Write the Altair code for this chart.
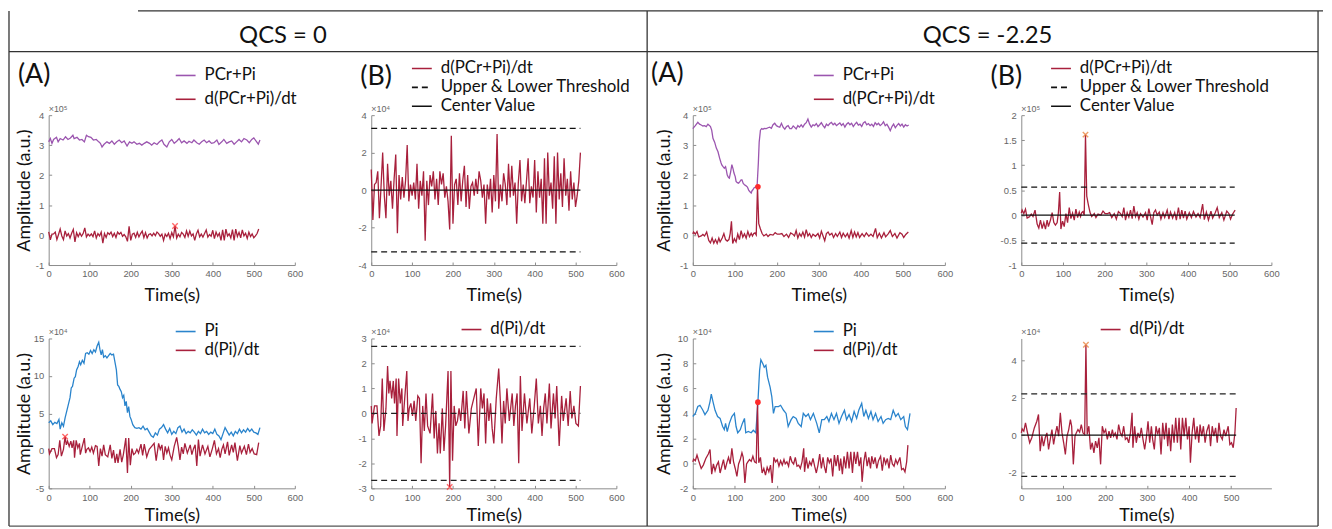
import altair as alt
import pandas as pd

# ---------------- data (amplitudes in units of 1e4 a.u.) ----------------
# QCS = 0 : PCr+Pi
t_pcr0 = [0, 4, 8, 12, 19, 23, 28, 35, 41, 47, 53, 59, 62, 69, 75, 81, 87, 92, 97, 103,
          109, 116, 122, 126, 130, 135, 142, 148, 154, 160, 166, 172, 178, 184, 191, 197, 203, 208, 215, 221,
          227, 233, 239, 246, 251, 257, 264, 270, 276, 281, 288, 294, 300, 306, 312, 318, 324, 330, 337, 342,
          349, 354, 361, 367, 373, 379, 385, 391, 397, 403, 410, 415, 422, 427, 434, 440, 446, 452, 458, 464,
          470, 476, 483, 489, 495, 500, 507, 511, 515]
v_pcr0 = [31.1, 32.2, 30.6, 31.9, 32.6, 31.1, 32.2, 31.7, 32.8, 31.9, 32.4, 33.3, 32.2, 32.6, 31.7, 31.9, 31.1, 33.3, 32.8, 32.6,
          31.7, 31.9, 31.1, 30.6, 29.4, 30.3, 31.1, 30.6, 31.4, 30.3, 31.1, 31.7, 30.8, 31.4, 29.7, 31.1, 30.6, 31.1, 30.3, 30.6,
          30.0, 30.6, 31.1, 30.6, 30.0, 30.8, 30.2, 31.1, 31.7, 30.3, 29.4, 31.1, 31.9, 30.6, 31.3, 32.2, 30.8, 31.4, 30.6, 31.3,
          30.8, 31.7, 30.8, 30.3, 31.1, 31.7, 30.8, 31.4, 30.6, 30.8, 31.7, 30.2, 31.1, 31.9, 30.6, 31.1, 31.4, 30.3, 31.1, 31.9,
          31.1, 32.2, 31.7, 30.8, 31.9, 32.4, 31.1, 30.3, 31.7]

# QCS = 0 : d(PCr+Pi)/dt  (sampled every 4 s)
t_dpcr0 = list(range(0, 513, 4))
v_dpcr0 = [1.1, -1.6, 0.3, 0.4, 1.0, -1.5, 0.2, 2.0, -0.3, -1.5,
           1.4, -0.3, 0.5, -1.0, 0.6, 1.9, -2.3, 0.8, -0.5, 0.7,
           -0.4, 0.5, 2.4, -0.6, 0.3, -0.3, 0.4, -0.5, 1.4, -1.0,
           0.5, -0.3, 1.0, -2.7, 0.5, -0.8, 0.8, 0.2, 1.0, -0.5,
           0.6, -0.8, 1.0, 0.3, 0.9, -0.4, 0.2, -0.6, -2.1, 2.9,
           -1.8, 0.3, 0.6, -0.8, 0.9, -0.6, 0.5, 1.3, -0.9, 0.8,
           -1.0, 0.2, 0.4, -0.3, 0.6, -0.2, 1.0, 0.5, -0.4, 0.3,
           -1.8, 0.3, -0.5, 0.6, -1.2, 0.8, -0.6, 3.0, -1.0, 0.3,
           -0.6, 0.9, 0.3, -0.8, 1.4, -0.4, 1.3, -0.3, 0.4, -1.8,
           0.4, 1.6, -0.6, 0.3, -0.7, 0.5, 1.7, -0.7, 0.2, -0.4,
           1.6, -1.2, 1.0, -0.4, 0.6, -1.8, 1.7, -1.8, 2.0, -0.3,
           0.4, -1.0, 1.8, -1.8, 2.0, -0.5, 0.9, -0.9, 1.7, -0.3,
           0.6, -1.1, 1.0, -0.5, 0.4, -0.9, -0.3, 0.5, 2.0]

# QCS = 0 : Pi
t_pi0 = [0, 5, 10, 15, 20, 25, 28, 32, 36, 40, 44, 48, 52, 55, 58, 62, 65, 68, 72, 75,
         78, 82, 86, 90, 94, 98, 102, 106, 110, 114, 118, 122, 125, 128, 131, 134, 138, 142, 146, 150,
         154, 158, 162, 165, 168, 171, 174, 177, 180, 183, 186, 189, 192, 195, 198, 201, 205, 210, 215, 220,
         225, 230, 235, 240, 245, 250, 255, 260, 265, 270, 275, 280, 285, 290, 295, 300, 305, 310, 315, 320,
         325, 330, 335, 340, 345, 350, 355, 360, 365, 370, 375, 380, 385, 390, 395, 400, 405, 410, 415, 420,
         425, 430, 435, 440, 445, 450, 455, 460, 465, 470, 475, 480, 485, 490, 495, 500, 505, 510, 515]
v_pi0 = [3.75, 4.0, 3.5, 3.8, 3.65, 4.2, 2.9, 3.75, 3.3, 4.4, 5.3, 6.2, 7.1, 8.4, 8.6, 9.7, 9.9, 10.8, 11.3, 11.9,
         11.5, 12.1, 11.7, 13.0, 13.1, 12.9, 13.4, 13.0, 13.5, 13.2, 14.0, 14.5, 13.5, 12.8, 13.5, 12.5, 12.7, 12.4, 12.7, 13.0,
         12.8, 12.9, 11.7, 10.8, 8.8, 8.6, 8.2, 7.9, 7.1, 7.4, 6.0, 6.6, 5.1, 5.9, 4.6, 4.2, 3.5, 3.1, 3.0, 3.1,
         2.9, 3.3, 2.8, 3.0, 2.5, 2.0, 1.8, 2.4, 2.1, 2.9, 3.1, 3.5, 2.9, 2.4, 3.0, 2.2, 2.6, 2.3, 3.1, 3.3,
         2.5, 2.9, 2.3, 2.6, 2.4, 2.8, 2.5, 2.1, 2.6, 2.3, 2.9, 2.4, 2.6, 2.2, 2.5, 2.3, 2.9, 2.2, 2.0, 1.5,
         2.3, 3.1, 2.6, 2.1, 2.5, 2.0, 2.6, 2.3, 2.9, 2.4, 2.8, 2.5, 3.0, 2.6, 2.9, 2.5, 2.4, 2.2, 3.1]

# QCS = 0 : d(Pi)/dt
t_dpi0 = [0, 2, 8, 14, 19, 23, 27, 31, 36, 40, 43, 46, 50, 54, 57, 61, 63, 67, 71, 75,
          77, 81, 87, 90, 93, 97, 101, 105, 109, 114, 118, 122, 126, 130, 134, 138, 144, 150, 154, 158,
          162, 166, 169, 174, 178, 182, 188, 192, 195, 199, 203, 207, 211, 215, 219, 225, 229, 233, 239, 245,
          251, 257, 262, 268, 272, 276, 280, 284, 288, 292, 296, 300, 306, 312, 316, 320, 324, 328, 332, 338,
          345, 349, 353, 357, 361, 365, 369, 375, 381, 388, 393, 399, 404, 409, 414, 418, 422, 426, 430, 436,
          440, 446, 450, 454, 460, 466, 470, 477, 482, 487, 491, 496, 501, 507, 512]
v_dpi0 = [0.3, -0.4, 0.3, 0.3, -0.9, -0.5, 1.4, -0.7, 0.2, 1.9, 0.8, 1.3, 0.6, 1.3, 0.4, 1.4, -0.9, 1.4, 0.4, 1.0,
          -0.5, 0.4, 1.7, -0.3, 0.2, 0.4, -0.1, 0.5, -0.3, 0.7, 0.6, -2.0, 0.3, -0.7, 0.8, -0.5, -0.8, 0.8, -1.0, 0.1,
          -1.6, -0.4, -1.6, 0.2, -1.5, -0.5, 1.7, -2.95, 1.7, -1.9, 0.3, -0.5, -0.3, 0.2, -0.3, 0.9, -0.6, 0.9, -0.8, 0.2,
          0.6, 1.0, -1.3, 1.0, 0.2, 0.8, -1.2, 0.6, -0.3, 0.4, -0.6, -1.2, 0.6, 1.8, 0.5, -1.2, 0.5, -0.4, 1.0, -0.3,
          0.8, -0.5, 0.3, 0.8, -2.0, 1.5, -0.7, 0.8, -0.4, 0.6, -0.8, 0.3, 1.4, -0.4, 0.3, -0.9, 0.2, 0.8, -0.4, 1.2,
          -0.6, 0.8, -0.2, 1.1, -1.3, 0.7, -0.3, 0.6, -0.5, 0.9, -0.2, 0.3, -0.4, -0.5, 1.1]

# QCS = -2.25 : PCr+Pi
t_pcr2 = [0, 6, 12, 16, 20, 24, 28, 32, 36, 40, 42, 45, 48, 52, 56, 60, 64, 67, 69, 72,
          75, 78, 80, 82, 85, 87, 90, 93, 96, 98, 101, 103, 106, 109, 112, 115, 117, 120, 123, 126,
          130, 133, 135, 139, 141, 143, 146, 149, 153, 156, 158, 161, 164, 167, 170, 175, 179, 183, 187, 191,
          195, 199, 203, 207, 211, 215, 219, 223, 227, 231, 235, 239, 242, 246, 250, 254, 258, 262, 266, 270,
          274, 278, 282, 286, 290, 294, 298, 302, 306, 310, 314, 318, 322, 326, 330, 334, 338, 342, 346, 350,
          354, 358, 362, 366, 370, 374, 378, 382, 386, 390, 394, 398, 402, 406, 410, 414, 418, 422, 426, 430,
          434, 438, 442, 446, 450, 454, 458, 462, 466, 470, 474, 478, 482, 486, 490, 494, 498, 502, 506, 510, 514]
v_pcr2 = [35.5, 36.5, 37.6, 37.0, 36.7, 36.4, 36.5, 36.2, 37.0, 36.5, 36.2, 35.0, 32.3, 31.0, 29.0, 27.8, 25.6, 24.2, 23.4, 22.8,
          22.3, 22.8, 21.5, 20.0, 19.2, 19.0, 21.0, 23.5, 22.0, 20.7, 19.5, 17.9, 17.5, 17.3, 17.8, 18.4, 18.4, 17.2, 16.8, 16.5,
          16.0, 15.0, 14.6, 14.0, 14.8, 15.1, 15.8, 16.0, 16.2, 24.0, 31.0, 35.0, 35.5, 35.3, 35.6, 35.5, 35.8, 36.0, 35.6, 36.8,
          37.3, 36.5, 36.2, 36.0, 37.3, 36.0, 35.3, 36.2, 36.5, 35.5, 35.5, 36.4, 36.0, 35.4, 36.5, 36.0, 36.8, 36.0, 37.0, 37.5,
          38.7, 37.0, 36.0, 36.8, 36.5, 37.2, 36.2, 36.8, 37.5, 36.5, 35.8, 37.0, 36.5, 37.2, 37.6, 36.8, 37.3, 36.5, 37.0, 37.4,
          36.6, 37.2, 36.0, 37.0, 37.5, 36.8, 37.3, 36.2, 37.0, 37.6, 36.7, 37.0, 36.2, 37.4, 37.8, 36.8, 37.2, 36.5, 37.0, 36.2,
          37.5, 36.8, 37.3, 36.5, 37.0, 37.8, 36.5, 37.0, 36.0, 34.8, 36.2, 37.0, 35.8, 36.6, 37.2, 36.4, 37.0, 36.0, 36.8, 36.4, 36.7]

# QCS = -2.25 : d(PCr+Pi)/dt
t_dpcr2 = [0, 2, 6, 10, 14, 20, 24, 28, 33, 38, 42, 46, 50, 54, 58, 62, 65, 70, 74, 78,
           82, 86, 89, 92, 95, 99, 103, 107, 111, 115, 119, 123, 127, 131, 135, 139, 142, 145, 148, 151,
           154, 157, 161, 165, 169, 175, 179, 184, 191, 196, 201, 207, 212, 217, 223, 228, 233, 238, 242, 246,
           250, 254, 258, 262, 266, 270, 274, 278, 282, 286, 292, 298, 302, 306, 310, 314, 318, 322, 326, 331,
           335, 340, 344, 350, 354, 358, 363, 368, 372, 377, 381, 385, 389, 393, 397, 403, 408, 413, 419, 424,
           429, 435, 439, 444, 449, 455, 459, 465, 470, 475, 481, 486, 493, 498, 502, 507, 513]
v_dpcr2 = [0.4, 1.0, 0.3, 1.2, -0.6, -0.3, 0.2, -0.3, 1.0, -1.8, -2.6, -1.0, -2.7, -1.5, -2.8, -1.0, -2.3, -1.0, 0.5, -1.5,
           -2.0, -1.5, 0.5, 4.6, -2.8, -1.2, -2.3, 0.3, -1.5, 1.5, -0.7, 0.4, -1.0, 1.2, -0.5, 0.6, -0.3, 0.5, 0.7, 0.0,
           16.1, 3.8, 2.0, 0.5, -0.3, 0.3, -0.5, 0.2, 0.0, 0.8, 0.3, 0.3, 0.5, -0.5, 0.3, -0.8, 0.7, 0.3, -0.3, 1.5,
           -1.0, 0.5, -0.4, 1.0, -0.7, 1.8, -0.3, 0.5, -0.8, 0.3, -0.4, 0.5, -1.0, 1.3, -0.3, -1.9, 0.5, 1.0, 0.0, 0.6,
           -0.8, 0.5, -0.5, 1.0, -0.8, 0.6, -0.6, 0.5, -1.0, 1.5, -0.8, 1.0, -0.6, 0.8, -0.8, 0.5, -0.5, 0.7, -0.4, 0.3,
           -0.5, 2.2, -0.9, 0.6, -1.0, 0.8, -0.6, 0.4, 1.5, -0.5, 0.5, -1.0, 0.8, 0.3, -0.8, 0.2, 1.0]

# QCS = -2.25 : Pi
t_pi2 = [0, 6, 12, 17, 24, 29, 36, 41, 44, 48, 53, 59, 65, 71, 75, 78, 82, 87, 93, 99,
         103, 107, 113, 118, 123, 126, 132, 139, 144, 150, 155, 159, 162, 167, 170, 174, 178, 184, 188, 192,
         196, 204, 209, 216, 222, 227, 234, 239, 246, 251, 258, 263, 269, 275, 280, 287, 295, 301, 307, 313,
         319, 324, 330, 336, 342, 348, 354, 361, 366, 372, 378, 384, 390, 395, 402, 407, 412, 418, 424, 429,
         435, 441, 448, 453, 459, 465, 471, 477, 483, 489, 495, 502, 506, 511, 517]
v_pi2 = [3.75, 4.0, 4.55, 4.65, 4.25, 3.9, 4.25, 4.95, 5.55, 4.95, 4.25, 3.75, 3.6, 2.95, 2.7, 3.2, 2.55, 3.2, 3.75, 4.0,
         2.95, 2.45, 2.7, 3.2, 3.6, 2.45, 2.55, 2.45, 2.65, 2.45, 4.9, 7.45, 8.3, 7.95, 7.7, 7.85, 6.9, 6.1, 5.35, 4.0,
         4.55, 4.55, 4.65, 4.25, 4.0, 2.95, 3.5, 3.75, 3.6, 3.2, 2.95, 4.0, 3.75, 3.95, 3.5, 4.0, 3.2, 2.45, 3.5, 3.5,
         3.75, 3.35, 4.0, 3.5, 4.0, 3.2, 3.75, 4.25, 3.5, 3.9, 3.35, 4.15, 3.6, 4.25, 4.8, 3.75, 4.25, 3.6, 4.15, 3.5,
         4.0, 3.35, 3.75, 3.2, 3.5, 3.6, 3.5, 4.25, 3.75, 4.0, 3.5, 3.75, 2.95, 2.7, 4.0]

# QCS = -2.25 : d(Pi)/dt
t_dpi2 = [0, 2, 6, 10, 14, 20, 25, 31, 37, 41, 45, 49, 53, 57, 61, 65, 69, 73, 77, 81,
          85, 89, 93, 97, 101, 105, 109, 113, 117, 120, 124, 128, 131, 135, 139, 143, 147, 151, 154, 157,
          161, 165, 169, 173, 177, 181, 185, 189, 193, 197, 201, 205, 209, 213, 217, 220, 224, 228, 232, 236,
          240, 244, 248, 252, 256, 260, 264, 266, 270, 274, 278, 282, 286, 290, 294, 298, 302, 306, 310, 313,
          317, 321, 325, 329, 333, 337, 341, 345, 349, 352, 356, 360, 364, 368, 372, 376, 380, 384, 388, 392,
          396, 400, 403, 407, 411, 415, 419, 423, 426, 430, 434, 438, 442, 447, 451, 455, 459, 463, 467, 471,
          475, 479, 483, 487, 493, 497, 501, 505, 509, 512]
v_dpi2 = [0.12, 0.34, 0.21, 0.66, 0.21, -0.41, -0.14, 0.39, 0.75, 1.11, -0.86, -0.05, -0.59, -0.14, 0.12, -0.77, -0.23, 0.3, -0.5, 0.04,
          0.48, -0.05, 1.2, 0.12, -0.41, -1.04, -0.05, 0.3, 0.84, 0.48, -1.57, -0.05, 0.12, 0.3, 0.16, 0.57, 0.12, 0.04, 4.86, 0.04,
          0.48, -0.77, -0.41, -0.95, -0.32, -0.68, -0.14, -1.57, 0.48, 0.12, 0.3, -0.23, 0.21, -0.14, 0.3, -0.05, 0.12, -0.23, 0.57, 0.12,
          -0.05, 0.48, -0.23, -0.14, -0.41, 0.12, 1.2, -0.68, 0.48, -0.41, 0.12, -0.14, 0.39, -0.23, -0.77, -0.14, 0.75, -0.41, 0.48, -0.23,
          -0.77, 0.48, 0.04, 0.39, -1.04, 0.66, -0.23, 0.66, -0.59, 0.39, -0.86, 0.57, -0.41, 0.93, -0.41, 0.93, -0.77, 0.93, -0.05, 0.93,
          -0.23, 0.48, -1.48, 0.12, 0.93, -0.23, 0.48, -0.41, 0.57, -0.05, 0.48, -0.41, 0.21, 0.57, -0.59, 0.48, -0.05, 0.39, -0.41, 0.66,
          -0.05, -0.23, 0.3, -0.05, 0.48, -0.5, -0.41, -0.68, 0.12, 1.46]

# thresholds (1e4 a.u.)
thr_pcr0, thr_pi0, thr_pcr2, thr_pi2 = 3.3, 2.68, 5.6, 2.22
t_end = 512

# marked points (t, value in 1e4 a.u.)
mark_p1 = ([308], [3.0])
mark_p3 = ([155], [16.1])
mark_p4 = ([154], [16.1])
mark_p5 = ([40], [1.9])
mark_p6 = ([192], [-2.95])
mark_p7 = ([155], [4.9])
mark_p8 = ([154], [4.86])

N_PCR, N_DPCR, N_PI, N_DPI = "PCr+Pi", "d(PCr+Pi)/dt", "Pi", "d(Pi)/dt"
N_THR, N_CEN = "Upper & Lower Threshold", "Center Value"

# ---------------- styling ----------------
FONT = "Lato"
TFONT = "Liberation Sans, DejaVu Sans"
PURPLE = "#9b55af"
BLUE = "#2a84cc"
DRED = "#a8203c"
MRED = "#ff2a2a"
MORANGE = "#e8782a"
AXC = "#8c8c8c"
LBL = "#666666"
INK = "#111111"
H = 151
XPATH = "M-1,-1L1,1M-1,1L1,-1"


def frame(t, v, k=1.0, series=None):
    n = min(len(t), len(v))
    d = pd.DataFrame({"t": list(t[:n]), "v": [x * k for x in v[:n]]})
    if series is not None:
        d["series"] = series
    return d


def x_enc(title_y, xmax=600, xvals=(0, 100, 200, 300, 400, 500, 600)):
    return alt.X("t:Q", scale=alt.Scale(domain=[0, xmax], nice=False, zero=False),
                 axis=alt.Axis(values=list(xvals), title="Time(s)", titleFont=FONT, titleFontSize=18,
                               titleFontWeight="normal", titleColor=INK, titleY=title_y,
                               titleBaseline="middle", labelFont=TFONT, labelFontSize=9.5,
                               labelColor=LBL, labelPadding=4, labelFlush=False, labelOverlap=False,
                               labelExpr="'' + datum.value", ticks=False, domainColor=AXC,
                               grid=True, gridColor=AXC, gridWidth=1, gridDash=[3, H - 3],
                               gridDashOffset=3))


def y_enc(ydom, yvals, title_x=None):
    kw = dict(values=yvals, labelFont=TFONT, labelFontSize=9.5, labelColor=LBL, labelPadding=5,
              labelOverlap=False, labelExpr="'' + datum.value", ticks=False, domainColor=AXC,
              grid=True, gridColor=AXC, gridWidth=1, gridDash=[3, 2000])
    if title_x is not None:
        kw.update(title="Amplitude (a.u.)", titleFont=FONT, titleFontSize=18, titleFontWeight="normal",
                  titleColor=INK, titleX=title_x, titleY=H / 2, titleAngle=270,
                  titleBaseline="middle", titleAlign="center")
    else:
        kw["title"] = None
    return alt.Y("v:Q", scale=alt.Scale(domain=ydom, nice=False, zero=False), axis=alt.Axis(**kw))


def legend(lx, ly, rowpad):
    return alt.Legend(title=None, orient="none", legendX=lx, legendY=ly, symbolType="stroke",
                      symbolSize=400, symbolStrokeWidth=1.6, labelFont=FONT, labelFontSize=17,
                      labelColor=INK, labelLimit=400, rowPadding=rowpad, labelOffset=8, padding=0)


ONE = pd.DataFrame({"k": [0]})


def txt(s, x, y, size, font=FONT, color=INK, align="left", baseline="middle"):
    return alt.Chart(pd.DataFrame({"s": [s]})).mark_text(
        font=font, fontSize=size, color=color, align=align, baseline=baseline
    ).encode(text="s:N", x=alt.value(x), y=alt.value(y))


def hline(x1, x2, y, color="#333333"):
    return alt.Chart(ONE).mark_rule(color=color, strokeWidth=1.3).encode(
        x=alt.value(x1), x2=alt.value(x2), y=alt.value(y))


def vline(x, y1, y2, color="#333333"):
    return alt.Chart(ONE).mark_rule(color=color, strokeWidth=1.3).encode(
        x=alt.value(x), y=alt.value(y1), y2=alt.value(y2))


def xmark(m, k, xe, ye, color):
    return alt.Chart(frame(m[0], m[1], k)).mark_point(
        shape=XPATH, size=30, strokeWidth=1.4, color=color, filled=False).encode(x=xe, y=ye)


def dot(m, k, xe, ye):
    return alt.Chart(frame(m[0], m[1], k)).mark_circle(size=32, color=MRED, opacity=1).encode(x=xe, y=ye)


def panel_a(width, base, deriv, names, colors, k, ydom, yvals, exp, title_x, title_y,
            lx, ly, rowpad, label=None, label_xy=None, extra=()):
    xe = x_enc(title_y)
    ye = y_enc(ydom, yvals, title_x)
    d = pd.concat([frame(base[0], base[1], k, names[0]), frame(deriv[0], deriv[1], k, names[1])])
    lines = alt.Chart(d).mark_line(strokeWidth=1.3).encode(
        x=xe, y=ye,
        color=alt.Color("series:N", scale=alt.Scale(domain=list(names), range=list(colors)),
                        legend=legend(lx, ly, rowpad)))
    layers = [lines]
    for e in extra:
        layers.append(e(xe, ye))
    layers.append(txt(exp, 0, -3, 9, font=TFONT, color=LBL, baseline="alphabetic"))
    if label:
        layers.append(txt(label, label_xy[0], label_xy[1], 27))
    return layers, width


def panel_b(width, deriv, name, k, thr, ydom, yvals, exp, title_y, lx, ly, rowpad,
            full_legend, center_dashed, label=None, label_xy=None, extra=(), xmax=600,
            xvals=(0, 100, 200, 300, 400, 500, 600)):
    xe = x_enc(title_y, xmax, xvals)
    ye = y_enc(ydom, yvals)
    dd = frame(deriv[0], deriv[1], k, name)
    rules = pd.DataFrame({"t": [0, 0, 0], "t2": [t_end] * 3, "v": [thr * k, -thr * k, 0.0],
                          "series": [N_THR, N_THR, N_CEN]})
    layers = []
    if full_legend:
        lg = legend(lx, ly, rowpad)
        dom = [name, N_THR, N_CEN]
        cs = alt.Scale(domain=dom, range=[DRED, "#111111", "#111111"])
        ds = alt.Scale(domain=dom, range=[[1, 0], [6, 4], [1, 0]])
        layers.append(alt.Chart(dd).mark_line(strokeWidth=1.3).encode(
            x=xe, y=ye, color=alt.Color("series:N", scale=cs, legend=lg),
            strokeDash=alt.StrokeDash("series:N", scale=ds, legend=lg)))
        layers.append(alt.Chart(rules).mark_rule(strokeWidth=1.3).encode(
            x=xe, x2="t2:Q", y=ye, color=alt.Color("series:N", scale=cs, legend=lg),
            strokeDash=alt.StrokeDash("series:N", scale=ds, legend=lg)))
    else:
        layers.append(alt.Chart(dd).mark_line(strokeWidth=1.3).encode(
            x=xe, y=ye, color=alt.Color("series:N", scale=alt.Scale(domain=[name], range=[DRED]),
                                        legend=legend(lx, ly, rowpad))))
        thr_rows = rules.iloc[:2]
        cen_rows = rules.iloc[2:]
        layers.append(alt.Chart(thr_rows).mark_rule(strokeWidth=1.3, color="#222222", strokeDash=[6, 4]).encode(
            x=xe, x2="t2:Q", y=ye))
        if center_dashed:
            layers.append(alt.Chart(cen_rows).mark_rule(strokeWidth=1.3, color="#222222", strokeDash=[6, 4]).encode(
                x=xe, x2="t2:Q", y=ye))
        else:
            layers.append(alt.Chart(cen_rows).mark_rule(strokeWidth=1.3, color="#111111").encode(
                x=xe, x2="t2:Q", y=ye))
    for e in extra:
        layers.append(e(xe, ye))
    layers.append(txt(exp, 0, -3, 9, font=TFONT, color=LBL, baseline="alphabetic"))
    if label:
        layers.append(txt(label, label_xy[0], label_xy[1], 27))
    return layers, width


# ---------------- panels ----------------
l1, w1 = panel_a(248, (t_pcr0, v_pcr0), (t_dpcr0, v_dpcr0), (N_PCR, N_DPCR), (PURPLE, DRED), 0.1,
                 [-1, 4], [-1, 0, 1, 2, 3, 4], "×10⁵", -24, 31, 127, -51, 5, "(A)", (-31, -40),
                 extra=[lambda xe, ye: xmark(mark_p1, 0.1, xe, ye, MRED)])
# header + table borders (drawn from the first panel, pixel offsets relative to its plot area)
deco = [
    hline(90, 1284, -105), hline(-40, 1279, -64), hline(-40, 1279, 414, "#555555"),
    vline(-40, -105, 414), vline(603, -105, 414), vline(1279, -105, 414),
    txt("QCS = 0", 236, -80, 24, align="center"),
    txt("QCS = -2.25", 946, -80, 24, align="center"),
]
p1 = alt.layer(*(l1 + deco)).properties(width=w1, height=H)

l2, w2 = panel_b(247, (t_dpcr0, v_dpcr0), N_DPCR, 1.0, thr_pcr0, [-4, 4], [-4, -2, 0, 2, 4], "×10⁴",
                 31, 40, -58, -1, True, False, "(B)", (-11, -38))
p2 = alt.layer(*l2).properties(width=w2, height=H)

l3, w3 = panel_a(254, (t_pcr2, v_pcr2), (t_dpcr2, v_dpcr2), (N_PCR, N_DPCR), (PURPLE, DRED), 0.1,
                 [-1, 4], [-1, 0, 1, 2, 3, 4], "×10⁵", -28, 31, 121, -51, 5, "(A)", (-42, -41),
                 extra=[lambda xe, ye: dot(mark_p3, 0.1, xe, ye)])
p3 = alt.layer(*l3).properties(width=w3, height=H)

l4, w4 = panel_b(252, (t_dpcr2, v_dpcr2), N_DPCR, 0.1, thr_pcr2, [-1, 2],
                 [-1, -0.5, 0, 0.5, 1, 1.5, 2], "×10⁵", 31, 29, -58, -1, True, False, "(B)", (-31, -38),
                 extra=[lambda xe, ye: xmark(mark_p4, 0.1, xe, ye, MORANGE)])
p4 = alt.layer(*l4).properties(width=w4, height=H)

l5, w5 = panel_a(248, (t_pi0, v_pi0), (t_dpi0, v_dpi0), (N_PI, N_DPI), (BLUE, DRED), 1.0,
                 [-5, 15], [-5, 0, 5, 10, 15], "×10⁴", -24, 27, 127, -18, -2,
                 extra=[lambda xe, ye: xmark(mark_p5, 1.0, xe, ye, MRED)])
p5 = alt.layer(*l5).properties(width=w5, height=H)

l6, w6 = panel_b(247, (t_dpi0, v_dpi0), N_DPI, 1.0, thr_pi0, [-3, 3], [-3, -2, -1, 0, 1, 2, 3], "×10⁴",
                 27, 90, -20, -1, False, True,
                 extra=[lambda xe, ye: xmark(mark_p6, 1.0, xe, ye, MRED)])
p6 = alt.layer(*l6).properties(width=w6, height=H)

l7, w7 = panel_a(254, (t_pi2, v_pi2), (t_dpi2, v_dpi2), (N_PI, N_DPI), (BLUE, DRED), 1.0,
                 [-2, 10], [-2, 0, 2, 4, 6, 8, 10], "×10⁴", -28, 27, 121, -18, -2,
                 extra=[lambda xe, ye: dot(mark_p7, 1.0, xe, ye)])
p7 = alt.layer(*l7).properties(width=w7, height=H)

l8, w8 = panel_b(252, (t_dpi2, v_dpi2), N_DPI, 1.0, thr_pi2, [-2.86, 5.2], [-2, 0, 2, 4], "×10⁴",
                 27, 79, -20, -1, False, False,
                 extra=[lambda xe, ye: xmark(mark_p8, 1.0, xe, ye, MORANGE)],
                 xmax=596, xvals=(0, 100, 200, 300, 400, 500))
p8 = alt.layer(*l8).properties(width=w8, height=H)

chart = alt.concat(p1, p2, p3, p4, p5, p6, p7, p8, columns=4,
                   spacing={"row": 74, "column": 77}, bounds="flush", align="each").resolve_scale(
    color="independent", strokeDash="independent"
).resolve_legend(
    color="independent", strokeDash="independent"
).properties(
    padding=0
).configure_view(strokeWidth=0)

chart.save("out.html", embed_options={"renderer": "svg", "actions": False})
